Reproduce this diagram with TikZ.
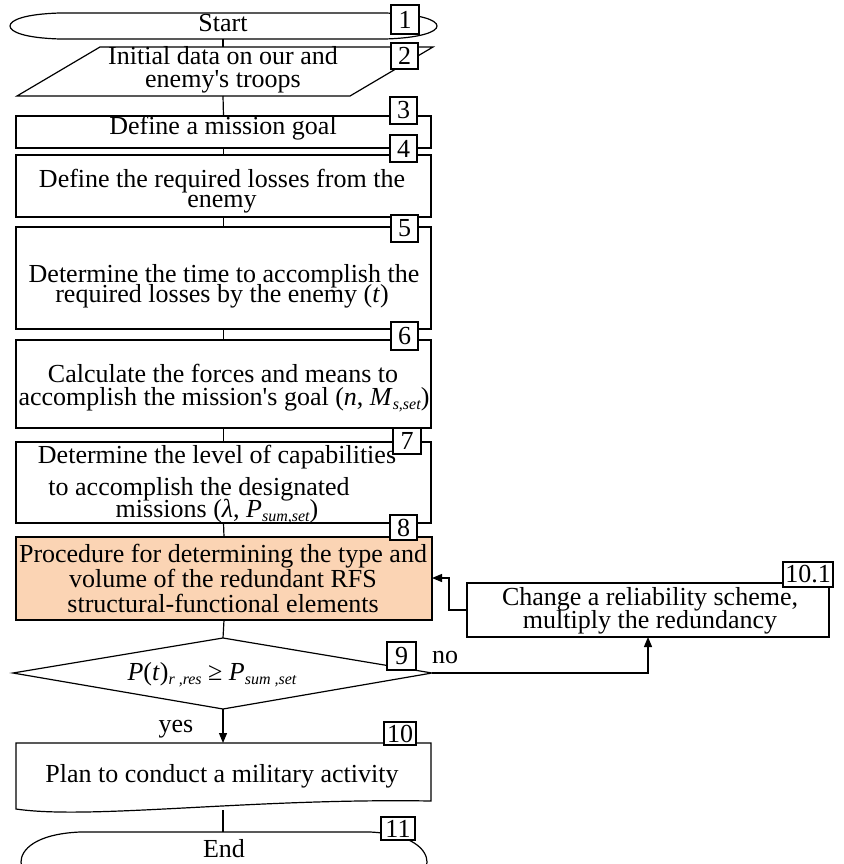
\documentclass[tikz,border=0pt]{standalone}
\usepackage{fontspec}
\setmainfont{Liberation Serif}[Ligatures=TeXOff]
\usetikzlibrary{arrows.meta}
\definecolor{peach}{HTML}{FBD4B4}
\newcommand\mysub[1]{\raisebox{-4pt}{\fontsize{16}{16}\selectfont\itshape #1}}
\begin{document}
\begin{tikzpicture}[x=1pt,y=-1pt,line width=1.2pt,
  box/.style={draw, line width=1.2pt, inner sep=0pt, outer sep=0pt},
  txt/.style={font=\fontsize{26}{21}\selectfont, inner sep=0pt, anchor=base},
  num/.style={draw, fill=white, line width=1.2pt, inner sep=0pt, font=\fontsize{26}{26}\selectfont},
  arr/.style={-{Triangle[length=10pt,width=8pt]}}]
\useasboundingbox (0,0) rectangle (843,864);
% shapes
\draw (60,13) .. controls (25,14) and (10,20) .. (10,26) .. controls (10,32) and (25,38) .. (60,39) -- (385,39) .. controls (420,38) and (437,32) .. (437,26) .. controls (437,20) and (420,14) .. (385,13) -- cycle;
\coordinate (sB) at (223,39);
\draw (100,47) -- (433,47) -- (350,96) -- (17,96) -- cycle;
\coordinate (p2T) at (223,47);
\coordinate (p2B) at (223,96);
\node[box, minimum width=415pt, minimum height=32pt] (b3) at (223.5,132) {};
\node[box, minimum width=415pt, minimum height=62pt] (b4) at (223.5,186) {};
\node[box, minimum width=415pt, minimum height=102pt] (b5) at (223.5,278) {};
\node[box, minimum width=415pt, minimum height=88pt] (b6) at (223.5,384) {};
\node[box, minimum width=415pt, minimum height=81pt] (b7) at (223.5,482.5) {};
\node[box, line width=2.6pt, fill=peach, minimum width=416pt, minimum height=83pt] (b8) at (224,578.5) {};
\node[box, minimum width=362pt, minimum height=54pt] (b101) at (648,610) {};
\draw (13,673) -- (223,638) -- (432,673) -- (223,709) -- cycle;
\coordinate (dT) at (223,638);
\coordinate (dB) at (223,709);
\coordinate (dR) at (432,673);
\draw (16,743) -- (431,743) -- (431,801) .. controls (250,798) and (90,820) .. (16,809) -- cycle;
\coordinate (b10T) at (223,743);
\coordinate (b10B) at (223,810);
\draw (80,832) .. controls (35,834) and (21,850) .. (21,862) .. controls (21,874) and (35,890) .. (80,892) -- (370,892) .. controls (413,890) and (427,874) .. (427,862) .. controls (427,850) and (413,834) .. (370,832) -- cycle;
\coordinate (ET) at (223,832);
\coordinate (fb) at (449,578);
% connectors
\draw (sB) -- (p2T);
\draw (p2B) -- (b3.north);
\draw (b3.south) -- (b4.north);
\draw (b4.south) -- (b5.north);
\draw (b5.south) -- (b6.north);
\draw (b6.south) -- (b7.north);
\draw (b7.south) -- (b8.north);
\draw (b8.south) -- (dT);
\draw[arr] (dB) -- (b10T);
\draw (b10B) -- (ET);
\draw[arr] (dR) -| (b101.south);
\draw[arr] (b101.west) -| (fb) -- (fb -| b8.east);
% texts
\node[txt] (tS) at (223,32) {Start};
\node[txt] (t2a) at (223,65) {Initial data on our and};
\node[txt] (t2b) at (223,88) {enemy's troops};
\node[txt] (t3) at (223,135) {Define a mission goal};
\node[txt] (t4a) at (222,187) {Define the required losses from the};
\node[txt] (t4b) at (222,207) {enemy};
\node[txt] (t5a) at (224,282) {Determine the time to accomplish the};
\node[txt] (t5b) at (222,302) {required losses by the enemy (\textit{t})};
\node[txt] (t6a) at (223,382) {Calculate the forces and means to};
\node[txt] (t6b) at (224,405) {accomplish the mission's goal (\textit{n}, \textit{M}\mysub{s,set})};
\node[txt] (t7a) at (217,463) {Determine the level of capabilities};
\node[txt] (t7b) at (199,495) {to accomplish the designated};
\node[txt] (t7c) at (217,517) {missions (\textit{λ}, \textit{P}\mysub{sum,set})};
\node[txt] (t8a) at (223,562) {Procedure for determining the type and};
\node[txt] (t8b) at (223,587) {volume of the redundant RFS};
\node[txt] (t8c) at (223,612) {structural-functional elements};
\node[txt] (t101a) at (650,605) {Change a reliability scheme,};
\node[txt] (t101b) at (650,628) {multiply the redundancy};
\node[txt] (t9) at (212,680) {\textit{P}(\textit{t})\mysub{r ,res} ≥ \textit{P}\mysub{sum ,set}};
\node[txt] (t10) at (222,782) {Plan to conduct a military activity};
\node[txt] (tE) at (224,857) {End};
\node[txt] (tno) at (445,663) {no};
\node[txt] (tyes) at (176,732) {yes};
% number labels
\node[num, minimum width=28pt, minimum height=29pt] (n1) at (405,19.5) {1};
\node[num, minimum width=27pt, minimum height=26pt] (n2) at (404.5,56) {2};
\node[num, minimum width=27pt, minimum height=27pt] (n3) at (403.5,110.5) {3};
\node[num, minimum width=27pt, minimum height=27pt] (n4) at (403.5,148.5) {4};
\node[num, minimum width=27pt, minimum height=27pt] (n5) at (404.5,228.5) {5};
\node[num, minimum width=27pt, minimum height=28pt] (n6) at (404.5,336) {6};
\node[num, minimum width=28pt, minimum height=26pt] (n7) at (407,441) {7};
\node[num, minimum width=27pt, minimum height=25pt] (n8) at (403.5,527.5) {8};
\node[num, minimum width=29pt, minimum height=28pt] (n9) at (401.5,656) {9};
\node[num, minimum width=32pt, minimum height=23pt] (n10) at (400,733.5) {10};
\node[num, minimum width=50pt, minimum height=25pt] (n101) at (808,574.5) {10.1};
\node[num, minimum width=34pt, minimum height=23pt] (n11) at (398,828.5) {11};
\end{tikzpicture}
\end{document}
